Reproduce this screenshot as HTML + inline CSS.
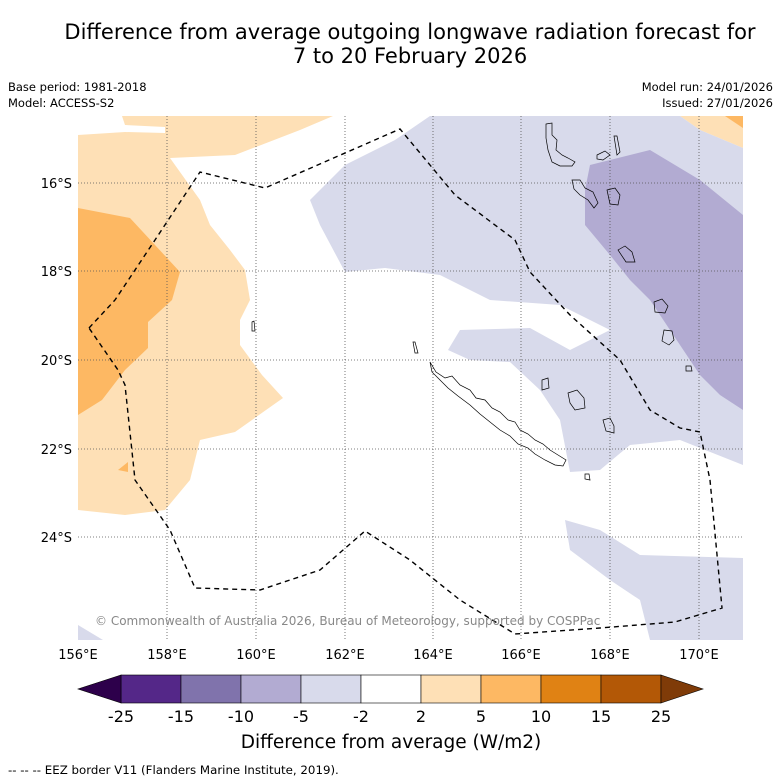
<!DOCTYPE html>
<html><head><meta charset="utf-8"><style>
body{margin:0;background:#fff;font-family:"DejaVu Sans","Liberation Sans",sans-serif;}
svg{display:block;font-family:"DejaVu Sans","Liberation Sans",sans-serif;}
</style></head><body>
<svg width="781" height="781" viewBox="0 0 781 781">
<text x="410" y="39" font-size="21" text-anchor="middle">Difference from average outgoing longwave radiation forecast for</text>
<text x="410" y="63" font-size="21" text-anchor="middle">7 to 20 February 2026</text>
<text x="8" y="91" font-size="11.5">Base period: 1981-2018</text>
<text x="8" y="107" font-size="11.5">Model: ACCESS-S2</text>
<text x="773" y="91" font-size="11.5" text-anchor="end">Model run: 24/01/2026</text>
<text x="773" y="107" font-size="11.5" text-anchor="end">Issued: 27/01/2026</text>
<defs><clipPath id="mc"><rect x="78" y="116" width="665" height="524"/></clipPath></defs>
<g clip-path="url(#mc)">
<rect x="78" y="116" width="665" height="524" fill="#fff"/>
<polygon fill="#fee0b6" points="78,116 122,116 125,125 165,127 165,133 125,132 78,135 78,116 333,116 300,130 235,155 170,158 200,200 210,225 230,250 245,270 250,300 240,320 240,345 262,375 283,398 235,432 200,440 190,480 165,510 125,515 78,510"/>
<polygon fill="#fff" points="78,116 122,116 125,125 165,127 165,133 125,132 78,135"/>
<polygon fill="#fdb863" points="78,208 130,218 155,245 180,272 172,300 148,322 148,348 125,370 102,400 78,415"/>
<polygon fill="#fdb863" points="118,470 128,462 128,472"/>
<polygon fill="#fee0b6" points="680,116 743,116 743,148 700,130"/>
<polygon fill="#fdb863" points="725,116 743,116 743,128"/>
<polygon fill="#d8daeb" points="430,116 680,116 700,130 743,148 743,465 680,440 630,445 600,470 570,472 560,420 540,390 510,362 470,360 448,350 460,330 530,328 570,350 610,330 560,305 490,300 440,275 385,268 345,272 320,225 310,200 345,165 395,140"/>
<polygon fill="#b2abd2" points="590,165 650,150 700,180 743,215 743,410 720,395 700,375 680,345 650,300 630,280 610,255 585,225 585,190"/>
<polygon fill="#d8daeb" points="565,520 600,530 640,555 743,558 743,640 650,640 640,600 610,580 570,550"/>
<polygon fill="#d8daeb" points="78,625 103,640 78,640"/>
<g stroke="#555" stroke-width="0.8" stroke-dasharray="1,2">
<line x1="167" y1="116" x2="167" y2="640"/><line x1="256" y1="116" x2="256" y2="640"/><line x1="345" y1="116" x2="345" y2="640"/><line x1="433" y1="116" x2="433" y2="640"/><line x1="521" y1="116" x2="521" y2="640"/><line x1="610" y1="116" x2="610" y2="640"/><line x1="699" y1="116" x2="699" y2="640"/>
<line x1="78" y1="183" x2="743" y2="183"/><line x1="78" y1="271" x2="743" y2="271"/><line x1="78" y1="360" x2="743" y2="360"/><line x1="78" y1="449" x2="743" y2="449"/><line x1="78" y1="537" x2="743" y2="537"/>
</g>
<g fill="none" stroke="#000" stroke-width="0.7">
<polyline points="430,362 436,372 445,378 452,376 460,385 470,390 476,398 485,400 492,408 500,412 508,420 515,422 520,430 528,434 535,440 543,444 550,450 558,455 566,460 563,466 555,465 545,460 535,454 528,448 518,444 510,436 500,430 490,422 480,414 470,405 458,396 448,388 440,380 432,372 430,362"/>
<polygon points="546,124 552,123 552,135 557,140 556,150 562,155 568,158 575,162 572,166 560,166 552,162 548,150 546,138"/>
<polygon points="614,136 617,136 620,152 617,155"/>
<polygon points="597,155 605,151 610,155 603,160 597,159"/>
<polygon points="572,180 580,180 585,188 593,192 598,203 594,208 588,200 580,195 574,189"/>
<polygon points="607,190 615,188 620,195 618,205 610,204"/>
<polygon points="618,250 625,246 632,252 635,262 626,262"/>
<polygon points="654,302 662,299 668,306 665,313 655,312"/>
<polygon points="664,330 672,331 674,340 669,345 662,341"/>
<polygon points="568,393 577,390 584,398 585,408 575,410 570,403"/>
<polygon points="603,420 610,418 614,426 614,433 606,431"/>
<polygon points="542,380 548,378 549,388 542,390"/>
<polygon points="686,366 691,366 692,371 686,371"/>
<polygon points="585,474 589,474 590,480 585,479"/>
<polygon points="252,322 254,321 255,331 252,331"/>
<polygon points="413,342 415,342 418,353 415,353"/>
</g>
<polyline fill="none" stroke="#000" stroke-width="1.4" stroke-dasharray="5,4" points="89,328 115,300 155,240 200,172 265,188 400,129 455,195 515,240 530,272 570,315 620,360 650,410 680,428 700,432 710,480 722,608 675,622 600,628 515,634 460,600 410,560 365,531 320,570 260,590 195,588 170,530 135,480 125,385 118,370 89,328"/>
<text x="95" y="625" font-size="12" fill="#888">© Commonwealth of Australia 2026, Bureau of Meteorology, supported by COSPPac</text>
</g>
<g font-size="13">
<text x="78" y="659" text-anchor="middle">156°E</text><text x="167" y="659" text-anchor="middle">158°E</text><text x="256" y="659" text-anchor="middle">160°E</text><text x="345" y="659" text-anchor="middle">162°E</text><text x="433" y="659" text-anchor="middle">164°E</text><text x="521" y="659" text-anchor="middle">166°E</text><text x="610" y="659" text-anchor="middle">168°E</text><text x="699" y="659" text-anchor="middle">170°E</text>
<text x="72" y="188" text-anchor="end">16°S</text><text x="72" y="276" text-anchor="end">18°S</text><text x="72" y="365" text-anchor="end">20°S</text><text x="72" y="454" text-anchor="end">22°S</text><text x="72" y="542" text-anchor="end">24°S</text>
</g>
<g id="cbar"></g>
<text x="391" y="748" font-size="18.5" text-anchor="middle">Difference from average (W/m2)</text>
<text x="8" y="774" font-size="11.8">--  --  -- EEZ border V11 (Flanders Marine Institute, 2019).</text>
</svg>
<script>
const bounds=["-25","-15","-10","-5","-2","2","5","10","15","25"];
const colors=["#542788","#8073ac","#b2abd2","#d8daeb","#ffffff","#fee0b6","#fdb863","#e08214","#b35806"];
const lowColor="#2d004b", highColor="#7f3b08";
const ns="http://www.w3.org/2000/svg", g=document.getElementById('cbar');
const x0=121,w=60,y0=675,h=28;
function mk(t,a){const e=document.createElementNS(ns,t);for(const k in a)e.setAttribute(k,a[k]);g.appendChild(e);return e;}
colors.forEach((c,i)=>{const r=mk('rect',{x:x0+i*w,y:y0,width:w,height:h,fill:c,stroke:'#000','stroke-width':0.6});

});
const n=colors.length;
const lt=mk('polygon',{points:`${x0},${y0} ${x0},${y0+h} 78,${y0+h/2}`,fill:lowColor,stroke:'#000','stroke-width':0.6});


const rt=mk('polygon',{points:`${x0+n*w},${y0} ${x0+n*w},${y0+h} 703,${y0+h/2}`,fill:highColor,stroke:'#000','stroke-width':0.6});


bounds.forEach((b,i)=>{const t=mk('text',{x:x0+i*w,y:722,'font-size':16,'text-anchor':'middle'});t.textContent=b;

});
</script>
</body></html>
